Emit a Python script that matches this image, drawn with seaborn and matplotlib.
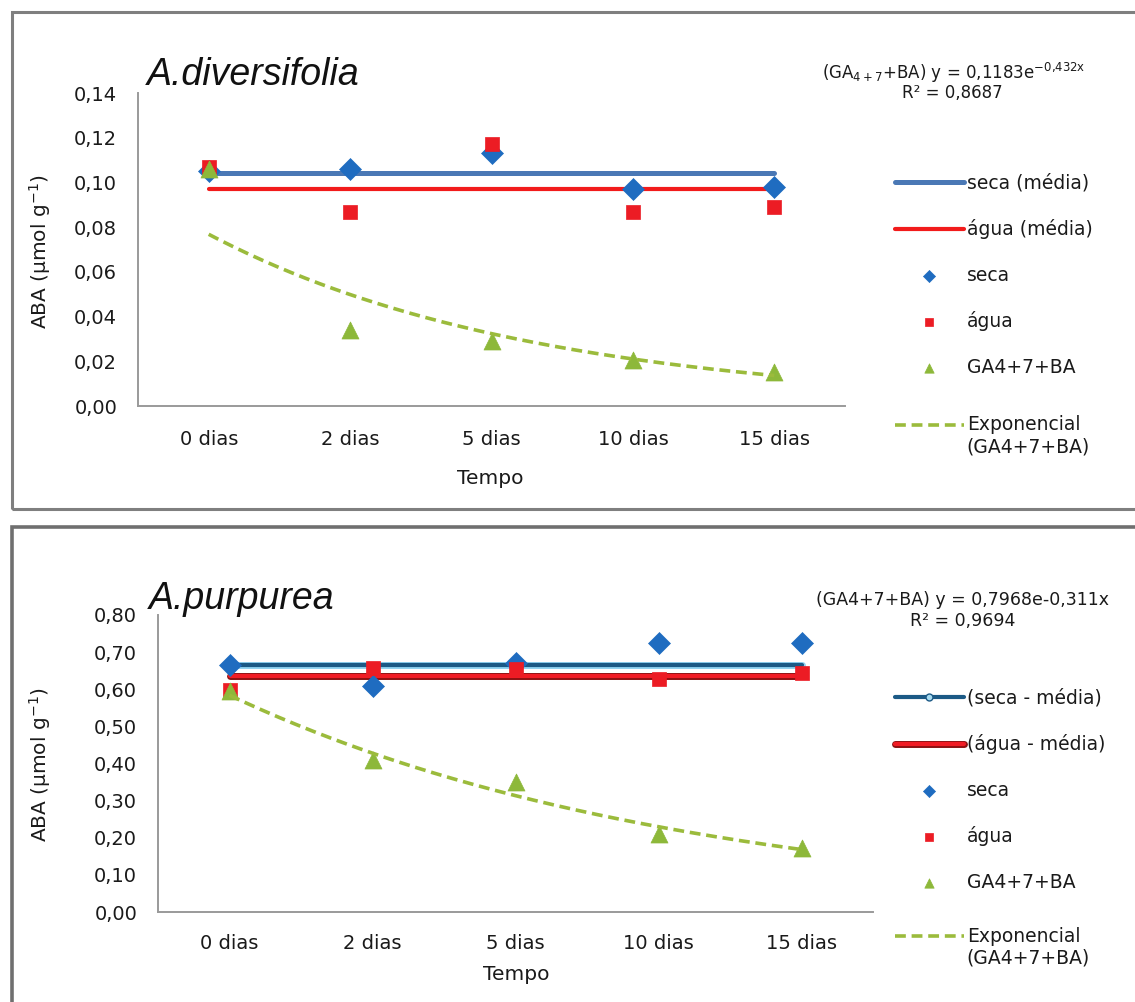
import numpy as np
import pandas as pd
import matplotlib
matplotlib.use("Agg")
import matplotlib.pyplot as plt
import matplotlib.patheffects as pe
from matplotlib.patches import Rectangle
from matplotlib.ticker import FuncFormatter
from matplotlib.legend_handler import HandlerLine2D
import seaborn as sns

sns.set_theme(style="white")
plt.rcParams["font.family"] = ["DejaVu Sans"]
plt.rcParams["mathtext.fontset"] = "dejavusans"

# ---- data -------------------------------------------------------------
tempo = ["0 dias", "2 dias", "5 dias", "10 dias", "15 dias"]

# A. diversifolia
div_seca = [0.105, 0.106, 0.113, 0.097, 0.098]
div_agua = [0.107, 0.0866, 0.117, 0.0866, 0.089]
div_ga = [0.106, 0.034, 0.029, 0.0205, 0.015]
div_seca_media = 0.104
div_agua_media = 0.097
div_fit = (0.1183, -0.432)   # y = a * exp(b * x), x = 1..5
div_r2 = "0,8687"

# A. purpurea
pur_seca = [0.666, 0.610, 0.672, 0.725, 0.725]
pur_agua = [0.598, 0.657, 0.655, 0.628, 0.645]
pur_ga = [0.595, 0.410, 0.350, 0.210, 0.172]
pur_seca_media = 0.666
pur_agua_media = 0.636
pur_fit = (0.7968, -0.311)
pur_r2 = "0,9694"

W, H = 1135, 1002
fig = plt.figure(figsize=(W / 100, H / 100), dpi=100)
TXT = "#1a1a1a"


def fx(x):
    return x / W


def fy(y):
    return 1 - y / H


def comma_fmt(v, _):
    return f"{v:.2f}".replace(".", ",")


class FirstRowLine(HandlerLine2D):
    """Line handle aligned with the first row of a two-row label."""

    def create_artists(self, legend, orig_handle, xdescent, ydescent,
                       width, height, fontsize, trans):
        arts = super().create_artists(legend, orig_handle, xdescent, ydescent,
                                      width, height, fontsize, trans)
        for a in arts:
            a.set_ydata(np.asarray(a.get_ydata()) + 0.62 * fontsize)
        return arts


class DotLine(HandlerLine2D):
    """Line handle with a small round marker in its middle."""

    def create_artists(self, legend, orig_handle, xdescent, ydescent,
                       width, height, fontsize, trans):
        arts = super().create_artists(legend, orig_handle, xdescent, ydescent,
                                      width, height, fontsize, trans)
        marker_line = arts[-1]
        marker_line.set_marker("o")
        marker_line.set_markersize(5)
        marker_line.set_markerfacecolor("#a8dcf2")
        marker_line.set_markeredgecolor("#1c5a86")
        marker_line.set_markeredgewidth(1.0)
        marker_line.set_path_effects([])
        return arts


# panel frames
fig.patches.append(Rectangle((fx(12), fy(509)), fx(1140) - fx(12), fy(12) - fy(509),
                             transform=fig.transFigure, fill=False,
                             edgecolor="#7f7f7f", linewidth=2.2, zorder=0))
fig.patches.append(Rectangle((fx(12), fy(1010)), fx(1140) - fx(12), fy(527) - fy(1010),
                             transform=fig.transFigure, fill=False,
                             edgecolor="#6f6f6f", linewidth=2.6, zorder=0))


def draw_panel(ax, seca, agua, ga, seca_m, agua_m, fit, ymax, style):
    df = pd.DataFrame({"pos": np.arange(len(tempo)), "tempo": tempo,
                       "seca": seca, "agua": agua, "ga": ga})
    xs = np.linspace(1, len(tempo), 200)
    trend = pd.DataFrame({"pos": xs - 1, "y": fit[0] * np.exp(fit[1] * xs)})
    ends = [0, len(tempo) - 1]

    if style == "div":
        blue_kw = dict(color="#4a78b5", linewidth=3.6)
        red_kw = dict(color="#f21b1b", linewidth=3.0)
    else:
        blue_kw = dict(color="#1c5a86", linewidth=3.0,
                       path_effects=[pe.Stroke(linewidth=5.0, foreground="#8fd3f2"), pe.Normal()])
        red_kw = dict(color="#f01c24", linewidth=3.0,
                      path_effects=[pe.Stroke(linewidth=5.0, foreground="#8a1010"), pe.Normal()])

    lbl_s = "seca (média)" if style == "div" else "(seca - média)"
    lbl_a = "água (média)" if style == "div" else "(água - média)"

    sns.lineplot(x=ends, y=[seca_m] * 2, ax=ax, label=lbl_s, zorder=2, **blue_kw)
    sns.lineplot(x=ends, y=[agua_m] * 2, ax=ax, label=lbl_a, zorder=2, **red_kw)
    sns.scatterplot(data=df, x="pos", y="seca", ax=ax, marker="D", s=125,
                    color="#1f6cc0", edgecolor="#1f6cc0", linewidth=0.5,
                    label="seca", zorder=3)
    sns.scatterplot(data=df, x="pos", y="agua", ax=ax, marker="s", s=110,
                    color="#ec1c24", edgecolor="#ec1c24", linewidth=0.5,
                    label="água", zorder=4)
    sns.scatterplot(data=df, x="pos", y="ga", ax=ax, marker="^", s=150,
                    color="#8db83a", edgecolor="#8db83a", linewidth=0.5,
                    label="GA4+7+BA", zorder=5)
    sns.lineplot(data=trend, x="pos", y="y", ax=ax, color="#9bbb3c", linewidth=2.6,
                 linestyle=(0, (3, 1.6)), label="Exponencial\n(GA4+7+BA)", zorder=6)

    ax.set_xlim(-0.5, len(tempo) - 0.5)
    ax.set_ylim(0, ymax)
    ax.set_xticks(df["pos"])
    ax.set_xticklabels(tempo)
    ax.yaxis.set_major_formatter(FuncFormatter(comma_fmt))
    ax.set_xlabel("")
    ax.set_ylabel("")
    for side in ("top", "right"):
        ax.spines[side].set_visible(False)
    for side in ("left", "bottom"):
        ax.spines[side].set_color("#9a9a9a")
        ax.spines[side].set_linewidth(1.4)
    ax.tick_params(axis="both", length=0, labelsize=14, colors=TXT)
    ax.tick_params(axis="y", pad=15)
    ax.tick_params(axis="x", pad=17)
    ax.grid(False)
    ax.set_facecolor("white")
    leg = ax.get_legend()
    if leg is not None:
        leg.remove()
    return ax


# --- A. diversifolia ---------------------------------------------------
ax1 = fig.add_axes([fx(138), fy(406), (845 - 138) / W, (406 - 93) / H])
draw_panel(ax1, div_seca, div_agua, div_ga, div_seca_media, div_agua_media,
           div_fit, 0.14, "div")
ax1.set_yticks(np.arange(0, 0.141, 0.02))

# --- A. purpurea -------------------------------------------------------
ax2 = fig.add_axes([fx(158), fy(912), (873 - 158) / W, (912 - 615) / H])
draw_panel(ax2, pur_seca, pur_agua, pur_ga, pur_seca_media, pur_agua_media,
           pur_fit, 0.80, "pur")
ax2.set_yticks(np.arange(0, 0.801, 0.10))
ax2.tick_params(axis="x", pad=16)

# titles, axis labels and fit equations
fig.text(fx(147), fy(75), "A.diversifolia", fontsize=27, style="italic",
         family="Liberation Sans", ha="left", va="center", color="#111111")
fig.text(fx(149), fy(599), "A.purpurea", fontsize=27, style="italic",
         family="Liberation Sans", ha="left", va="center", color="#111111")

ylab = "ABA (µmol g$^{-1}$)"
fig.text(fx(40), fy(252), ylab, rotation=90, fontsize=14.5, ha="center", va="center",
         color=TXT)
fig.text(fx(40), fy(765), ylab, rotation=90, fontsize=14.5, ha="center", va="center",
         color=TXT)
fig.text(fx(490), fy(478), "Tempo", fontsize=14.5, ha="center", va="center", color=TXT)
fig.text(fx(516), fy(975), "Tempo", fontsize=14.5, ha="center", va="center", color=TXT)

a, b = div_fit
eq1 = ("(GA$_{4+7}$+BA) y = " + f"{a:.4f}".replace(".", ",") + r"e$^{\mathregular{"
       + f"{b:.3f}".replace(".", "{,}") + "x}}$")
fig.text(fx(954), fy(73), eq1, fontsize=12, ha="center", va="center", color=TXT)
fig.text(fx(952), fy(93), f"R² = {div_r2}", fontsize=12, ha="center", va="center",
         color=TXT)
a, b = pur_fit
eq2 = ("(GA4+7+BA) y = " + f"{a:.4f}".replace(".", ",") + "e"
       + f"{b:.3f}".replace(".", ",") + "x")
fig.text(fx(962), fy(600), eq2, fontsize=12.5, ha="center", va="center", color=TXT)
fig.text(fx(963), fy(621), f"R² = {pur_r2}", fontsize=12.5, ha="center", va="center",
         color=TXT)

# legends to the right of each plot: five entries, then the fitted curve
leg_kw = dict(loc="upper left", bbox_transform=fig.transFigure, frameon=False,
              fontsize=13.5, handlelength=3.7, handletextpad=0.15,
              labelspacing=1.42, markerscale=0.55, borderaxespad=0,
              labelcolor=TXT)
for ax, top, fit_top, first_map in ((ax1, 166, 408, None),
                                    (ax2, 681, 919, DotLine())):
    h, l = ax.get_legend_handles_labels()
    hmap = {}
    if first_map is not None:
        hmap[h[0]] = first_map
    fig.legend(h[:-1], l[:-1], bbox_to_anchor=(fx(887), fy(top)),
               handler_map=hmap, **leg_kw)
    fig.legend(h[-1:], l[-1:], bbox_to_anchor=(fx(887), fy(fit_top)),
               handler_map={h[-1]: FirstRowLine()}, **leg_kw)

fig.savefig("out.png", dpi=100, facecolor="white")
